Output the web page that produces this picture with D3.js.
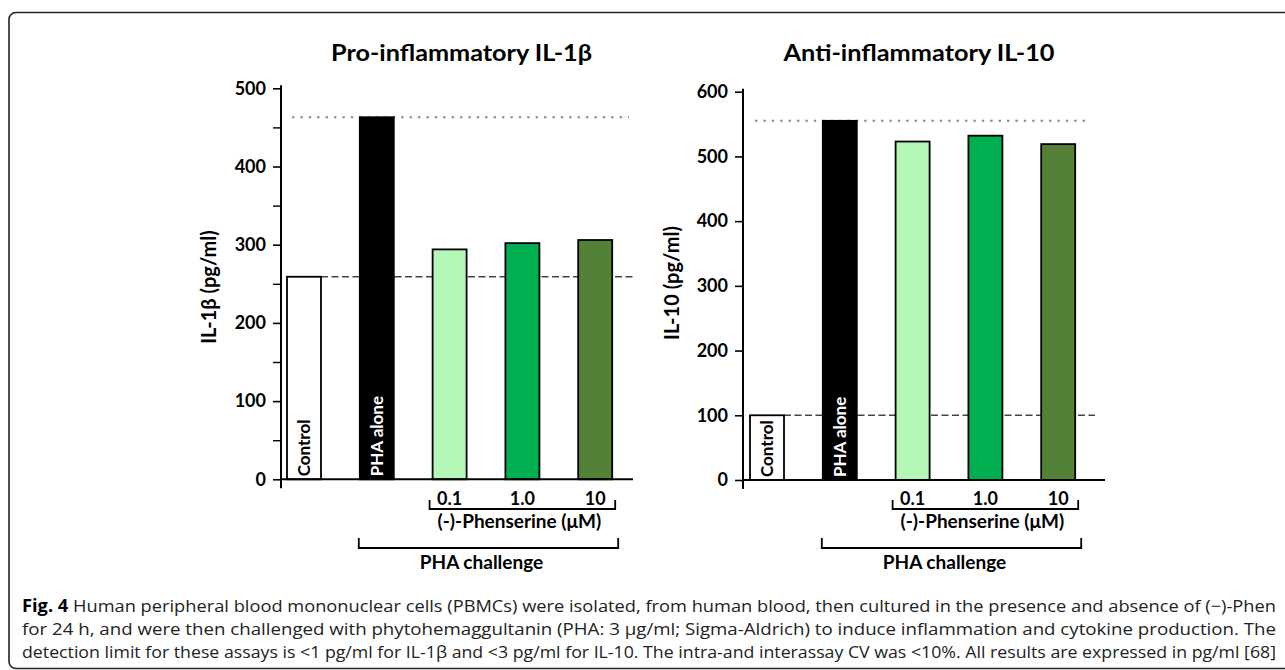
<!DOCTYPE html>
<html>
<head>
<meta charset="utf-8">
<script src="https://cdn.jsdelivr.net/npm/d3@7"></script>
<style>
  body { margin: 0; background: #fff; }
  svg { display: block; }
  .tick text { font-family: Lato, "Open Sans", sans-serif; font-weight: bold; }
</style>
</head>
<body>
<svg id="fig" width="1285" height="670"></svg>
<script>
// bar groups, same order in both panels
const groups = ["Control", "PHA alone", "0.1", "1.0", "10"];
const barColors = ["#ffffff", "#000000", "#b4f7b6", "#00b050", "#538135"];
const doseLabels = ["0.1", "1.0", "10"];

// values (pg/ml)
const il1bValues = [259, 463, 294, 302, 306];
const il10Values = [100, 555, 523, 532, 519];

const il1bTicks = [0, 100, 200, 300, 400, 500];
const il1bMinorTicks = [50, 150, 250, 350, 450];
const il10Ticks = [0, 100, 200, 300, 400, 500, 600];

const captionLines = [
  ["Fig. 4", " Human peripheral blood mononuclear cells (PBMCs) were isolated, from human blood, then cultured in the presence and absence of (\u2212)-Phen"],
  ["", "for 24 h, and were then challenged with phytohemaggultanin (PHA: 3 \u00b5g/ml; Sigma-Aldrich) to induce inflammation and cytokine production. The"],
  ["", "detection limit for these assays is <1 pg/ml for IL-1\u03b2 and <3 pg/ml for IL-10. The intra-and interassay CV was <10%. All results are expressed in pg/ml [68]"]
];

const svg = d3.select("#fig");
const font = "Lato, 'Open Sans', sans-serif";

// frame round the figure
svg.append("rect")
  .attr("x", 9).attr("y", 12.5)
  .attr("width", 1300).attr("height", 656)
  .attr("rx", 7)
  .attr("fill", "none")
  .attr("stroke", "#222")
  .attr("stroke-width", 1.6);

function drawPanel(p) {
  const g = svg.append("g");
  const bw = 34;

  const x = d3.scalePoint().domain(groups).range(p.xRange).padding(0.5);
  const y = d3.scaleLinear().domain([0, p.max]).range([p.y0, p.yTop]);

  // y axis
  g.append("g")
    .attr("transform", `translate(${p.axisX},0)`)
    .call(d3.axisLeft(y).tickValues(p.ticks).tickSize(8).tickPadding(7))
    .call(a => a.select(".domain").remove())
    .call(a => a.selectAll(".tick line").attr("stroke", "#000").attr("stroke-width", 1.6))
    .call(a => a.selectAll(".tick text").attr("font-size", 18).attr("fill", "#000"));
  if (p.minor) {
    g.append("g")
      .attr("transform", `translate(${p.axisX},0)`)
      .call(d3.axisLeft(y).tickValues(p.minor).tickSize(8).tickFormat(""))
      .call(a => a.select(".domain").remove())
      .call(a => a.selectAll(".tick line").attr("stroke", "#000").attr("stroke-width", 1.4));
  }
  g.append("line")
    .attr("x1", p.axisX).attr("x2", p.axisX)
    .attr("y1", y(p.max) - 3).attr("y2", y(0) + 9)
    .attr("stroke", "#000").attr("stroke-width", 2);

  // reference lines
  g.append("line")
    .attr("x1", x(groups[0]) - bw / 2 + 5).attr("x2", p.lineEnd - 4)
    .attr("y1", y(p.values[1])).attr("y2", y(p.values[1]))
    .attr("stroke", "#888").attr("stroke-width", 2)
    .attr("stroke-dasharray", "2.4,6");
  g.append("line")
    .attr("x1", x(groups[0]) + bw / 2).attr("x2", p.lineEnd)
    .attr("y1", y(p.values[0])).attr("y2", y(p.values[0]))
    .attr("stroke", "#444").attr("stroke-width", 1.6)
    .attr("stroke-dasharray", "7,3.5");

  // bars
  g.selectAll("rect.bar").data(groups)
    .join("rect")
    .attr("class", "bar")
    .attr("x", d => x(d) - bw / 2)
    .attr("y", (d, i) => y(p.values[i]))
    .attr("width", bw)
    .attr("height", (d, i) => y(0) - y(p.values[i]))
    .attr("fill", (d, i) => barColors[i])
    .attr("stroke", "#000")
    .attr("stroke-width", 1.8);

  // labels inside the first two bars
  [0, 1].forEach(i => {
    const cx = x(groups[i]) + 6;
    g.append("text")
      .attr("transform", `translate(${cx},${y(0) - 3}) rotate(-90)`)
      .attr("font-family", font)
      .attr("font-weight", "bold")
      .attr("font-size", 17)
      .attr("fill", i === 1 ? "#fff" : "#000")
      .text(groups[i]);
  });

  // x axis
  g.append("line")
    .attr("x1", p.axisX).attr("x2", p.xAxisEnd)
    .attr("y1", y(0)).attr("y2", y(0))
    .attr("stroke", "#000").attr("stroke-width", 2);

  // dose labels + bracket
  g.selectAll("text.dose").data(doseLabels)
    .join("text")
    .attr("class", "dose")
    .attr("x", d => x(d))
    .attr("y", 505)
    .attr("text-anchor", "middle")
    .attr("font-family", font)
    .attr("font-weight", "bold")
    .attr("font-size", 18)
    .text(d => d);

  const bl = x("0.1") - bw / 2 - 3, br = x("10") + bw / 2 + 3;
  g.append("path")
    .attr("d", `M${bl},500 V509 H${br} V500`)
    .attr("fill", "none").attr("stroke", "#000").attr("stroke-width", 1.8);
  g.append("text")
    .attr("x", (bl + br) / 2 - 3).attr("y", 528)
    .attr("text-anchor", "middle")
    .attr("font-family", font)
    .attr("font-weight", "bold")
    .attr("font-size", 19)
    .text("(-)-Phenserine (\u03bcM)");

  const cl = x("PHA alone") - bw / 2 - 1, cr = x("10") + bw / 2 + 6;
  g.append("path")
    .attr("d", `M${cl},538 V548 H${cr} V538`)
    .attr("fill", "none").attr("stroke", "#000").attr("stroke-width", 1.8);
  g.append("text")
    .attr("x", (cl + cr) / 2 - 7).attr("y", 569)
    .attr("text-anchor", "middle")
    .attr("font-family", font)
    .attr("font-weight", "bold")
    .attr("font-size", 19)
    .text("PHA challenge");

  // title
  g.append("text")
    .attr("x", p.titleX).attr("y", 61)
    .attr("text-anchor", "middle")
    .attr("font-family", font)
    .attr("font-weight", "bold")
    .attr("font-size", 23)
    .attr("textLength", p.titleW)
    .attr("lengthAdjust", "spacingAndGlyphs")
    .text(p.title);

  // y label
  g.append("text")
    .attr("transform", `translate(${p.labelX},${p.labelY}) rotate(-90)`)
    .attr("text-anchor", "middle")
    .attr("font-family", font)
    .attr("font-weight", "bold")
    .attr("font-size", 20)
    .text(p.yLabel);
}

drawPanel({
  values: il1bValues, max: 500, ticks: il1bTicks, minor: il1bMinorTicks,
  y0: 479.3, yTop: 88.3, axisX: 281, xRange: [267.6, 631.6],
  xAxisEnd: 633, lineEnd: 633,
  title: "Pro-inflammatory IL-1\u03b2", titleX: 461.5, titleW: 261,
  yLabel: "IL-1\u03b2 (pg/ml)", labelX: 216, labelY: 287
});

drawPanel({
  values: il10Values, max: 600, ticks: il10Ticks, minor: null,
  y0: 480, yTop: 91.7, axisX: 743, xRange: [730.6, 1094.6],
  xAxisEnd: 1105, lineEnd: 1095,
  title: "Anti-inflammatory IL-10", titleX: 919, titleW: 271,
  yLabel: "IL-10 (pg/ml)", labelX: 679, labelY: 283
});

// caption
const cap = svg.append("g");
captionLines.forEach((ln, i) => {
  const t = cap.append("text")
    .attr("x", 22).attr("y", 612 + i * 23)
    .attr("font-family", "'Open Sans', sans-serif")
    .attr("font-size", 17)
    .attr("fill", "#222")
    .attr("textLength", 1254)
    .attr("lengthAdjust", "spacingAndGlyphs");
  if (ln[0]) t.append("tspan").attr("font-weight", "bold").attr("fill", "#000").text(ln[0]);
  t.append("tspan").text(ln[1]);
});
</script>
</body>
</html>
